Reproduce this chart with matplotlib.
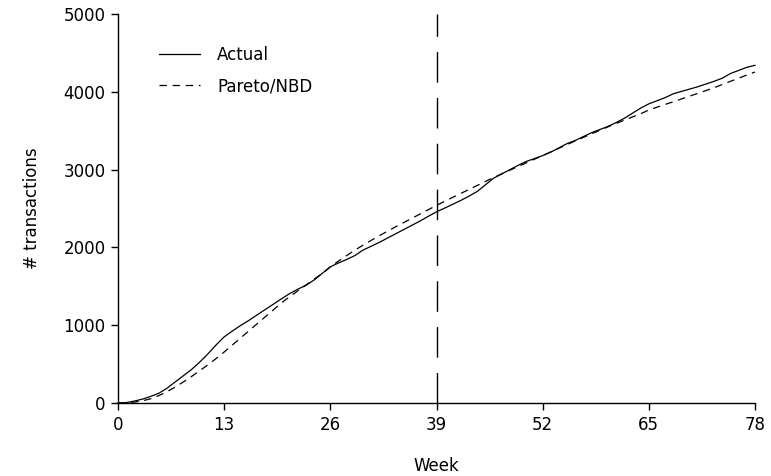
import numpy as np
import matplotlib
matplotlib.use("Agg")
import matplotlib.pyplot as plt

# ---------------------------
# data
# ---------------------------
weeks = np.arange(0, 79)

actual = [
    0, 5, 25, 50, 85, 125, 190, 270, 350, 430,
    525, 630, 745, 850, 925, 995, 1060, 1130, 1200, 1268,
    1338, 1405, 1462, 1512, 1580, 1665, 1750, 1800, 1845, 1895,
    1965, 2015, 2065, 2120, 2175, 2230, 2285, 2340, 2400, 2457,
    2505, 2555, 2605, 2660, 2720, 2805, 2890, 2945, 3000, 3055,
    3105, 3142, 3180, 3225, 3280, 3335, 3375, 3425, 3475, 3515,
    3555, 3605, 3660, 3725, 3790, 3845, 3885, 3925, 3975, 4005,
    4035, 4065, 4100, 4135, 4175, 4235, 4275, 4315, 4340,
]

pareto_nbd = [
    0, 3, 12, 28, 55, 95, 145, 205, 270, 340,
    415, 490, 570, 655, 745, 835, 925, 1015, 1105, 1195,
    1285, 1365, 1440, 1515, 1590, 1665, 1750, 1825, 1895, 1965,
    2028, 2090, 2150, 2208, 2265, 2320, 2375, 2430, 2485, 2540,
    2592, 2644, 2695, 2746, 2797, 2848, 2898, 2946, 2993, 3040,
    3087, 3134, 3180, 3228, 3275, 3322, 3369, 3415, 3460, 3505,
    3550, 3593, 3635, 3677, 3718, 3766, 3802, 3838, 3872, 3908,
    3944, 3980, 4016, 4053, 4094, 4135, 4175, 4215, 4255,
]

calib_end = 39
xticks = [0, 13, 26, 39, 52, 65, 78]
yticks = [0, 1000, 2000, 3000, 4000, 5000]

# ---------------------------
# plot
# ---------------------------
plt.rcParams["font.family"] = ["DejaVu Sans"]
plt.rcParams["font.size"] = 12

fig = plt.figure(figsize=(7.71, 4.76), dpi=100)
ax = fig.add_axes([118 / 771, 1 - 403 / 476, 637 / 771, 389 / 476])

ax.plot(weeks, actual, color="black", lw=0.9, label="Actual", clip_on=False)
ax.plot(weeks, pareto_nbd, color="black", lw=0.9, dashes=(6, 4.5),
        label="Pareto/NBD", clip_on=False)
ax.plot([calib_end, calib_end], [0, 5000], color="black", lw=1.0,
        dashes=(22, 11), clip_on=False)

ax.set_xlim(0, 78)
ax.set_ylim(0, 5000)
ax.set_xticks(xticks)
ax.set_yticks(yticks)

for side in ["top", "right"]:
    ax.spines[side].set_visible(False)
for side in ["left", "bottom"]:
    ax.spines[side].set_linewidth(1.0)
ax.tick_params(direction="out", length=5, width=1.0, labelsize=12, pad=4)

ax.set_xlabel("Week", fontsize=12, labelpad=17)
ax.set_ylabel("# transactions", fontsize=12, labelpad=16)

ax.legend(loc="upper left", bbox_to_anchor=(0.064, 0.918), frameon=False,
          borderpad=0, borderaxespad=0, handlelength=2.5, handletextpad=1.0,
          labelspacing=0.8, fontsize=12)

fig.savefig("out.png", dpi=100)
